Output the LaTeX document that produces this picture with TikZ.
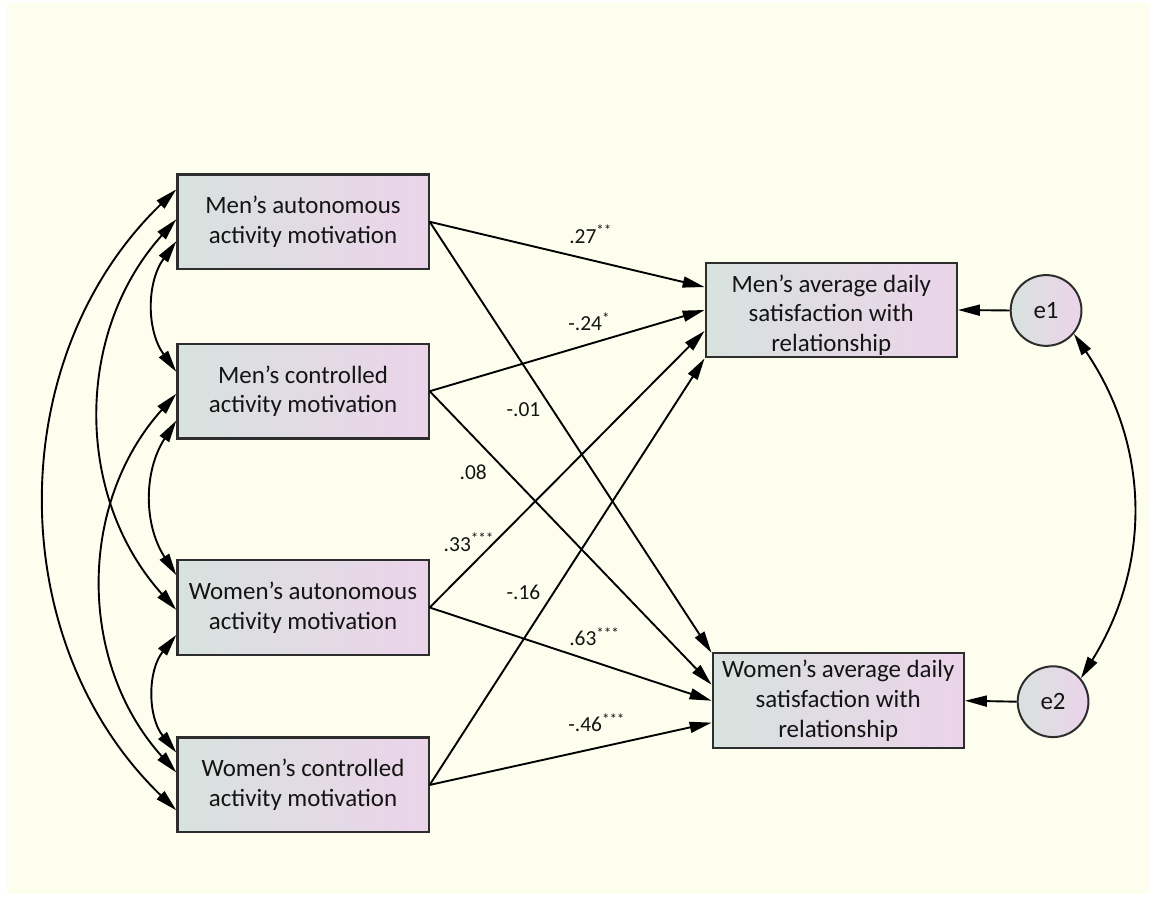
\documentclass[tikz,border=0pt]{standalone}
\usepackage{fontspec}
\setmainfont{Carlito}
\usetikzlibrary{arrows.meta}
\definecolor{paper}{RGB}{253,254,238}
\definecolor{boxL}{RGB}{216,226,222}
\definecolor{boxR}{RGB}{235,212,234}
\definecolor{ink}{RGB}{20,20,20}
\definecolor{rim}{RGB}{45,45,45}
\begin{document}
\begin{tikzpicture}[x=1pt,y=-1pt,
  every node/.style={text=ink},
  var/.style={draw=rim, line width=2.2pt, rectangle, minimum width=252pt,
    minimum height=95pt, inner sep=0pt, left color=boxL, right color=boxR,
    align=center, font=\fontsize{25}{30}\selectfont},
  err/.style={draw=rim, line width=2pt, circle, minimum size=71pt, inner sep=0pt,
    left color=boxL, right color=boxR, font=\fontsize{25}{30}\selectfont},
  tip/.style={line width=1.9pt},
  reg/.style={tip, -{Triangle[length=22pt,width=11pt]}},
  cov/.style={tip, {Triangle[length=22pt,width=11pt]}-{Triangle[length=22pt,width=11pt]}},
  coef/.style={anchor=base west, inner sep=0pt, font=\fontsize{21.5}{26}\selectfont}]

% canvas
\fill[white] (0,0) rectangle (1153,901);
\fill[paper] (7,3) rectangle (1153,897);

% predictors
\node[var] (ma) at (304,222.5) {Men’s autonomous\\activity motivation};
\node[var] (mc) at (304,392.5) {Men’s controlled\\activity motivation};
\node[var] (wa) at (304,609.5) {Women’s autonomous\\activity motivation};
\node[var] (wc) at (304,787.5) {Women’s controlled\\activity motivation};

% outcomes and residuals
\node[var] (ms) at (834,311) {\rule{0pt}{28pt}Men’s average daily\\satisfaction with\\relationship};
\node[var] (ws) at (841,703) {Women’s average daily\\satisfaction with\\relationship};
\node[err] (e1) at (1049.5,311.5) {e1};
\node[err] (e2) at (1056.5,704) {e2};

% regression paths
\draw[reg] (ma.east) -- ([yshift=23pt]ms.west);
\draw[reg] (ma.east) -- ([yshift=48pt]ws.west);
\draw[reg] (mc.east) -- (ms.west);
\draw[reg] (mc.east) -- ([yshift=16pt]ws.west);
\draw[reg] (wa.east) -- ([yshift=-21pt]ms.west);
\draw[reg] (wa.east) -- (ws.west);
\draw[reg] (wc.east) -- (ms.south west);
\draw[reg] (wc.east) -- ([yshift=-22pt]ws.west);
\draw[reg] (e1.west) -- (ms.east);
\draw[reg] (e2.west) -- (ws.east);

% covariances among predictors
\draw[cov] ([yshift=32.5pt]ma.west) to[bend right=46] ([yshift=-25.5pt]wc.west);
\draw[cov] ([yshift=2.5pt]ma.west) to[bend right=42] ([yshift=-2.5pt]wa.west);
\draw[cov] ([yshift=-19.5pt]ma.west) to[bend right=36] ([yshift=19.5pt]mc.west);
\draw[cov] ([yshift=-2.5pt]mc.west) to[bend right=42] ([yshift=12.5pt]wc.west);
\draw[cov] ([yshift=-29.5pt]mc.west) to[bend right=33] ([yshift=32.5pt]wa.west);
\draw[cov] ([yshift=-27.5pt]wa.west) to[bend right=39] ([yshift=32.5pt]wc.west);

% residual covariance
\draw[cov] (e1.-40) to[bend left=33] (e2.40);

% path coefficients
\node[coef] (k1) at (571,244) {.27\textsuperscript{**}};
\node[coef] (k2) at (570,332) {-.24\textsuperscript{*}};
\node[coef] (k3) at (508,418) {-.01};
\node[coef] (k4) at (461,481) {.08};
\node[coef] (k5) at (445,553) {.33\textsuperscript{***}};
\node[coef] (k6) at (508,601) {-.16};
\node[coef] (k7) at (571,648) {.63\textsuperscript{***}};
\node[coef] (k8) at (570,734) {-.46\textsuperscript{***}};
\end{tikzpicture}
\end{document}
